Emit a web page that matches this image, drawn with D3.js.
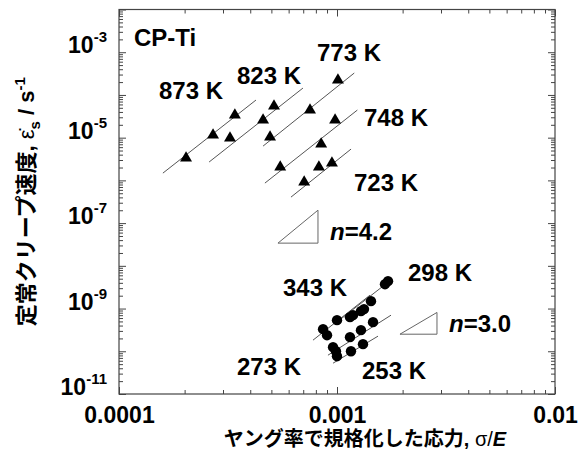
<!DOCTYPE html>
<html>
<head>
<meta charset="utf-8">
<script src="https://cdn.jsdelivr.net/npm/d3@7"></script>
<style>
  body { margin: 0; background: #fff; }
  svg { display: block; }
</style>
</head>
<body>
<svg id="chart" width="588" height="462"></svg>
<script>
// Steady-state creep rate vs. modulus-compensated stress, CP-Ti

// High-temperature tests (triangles)
const highTLabels = ["873 K", "823 K", "773 K", "748 K", "723 K"];
const highTStress = [
  [2.03e-4, 2.70e-4, 3.40e-4],
  [3.23e-4, 4.58e-4, 5.14e-4],
  [4.93e-4, 7.52e-4, 1.01e-3],
  [5.49e-4, 8.46e-4, 9.80e-4],
  [7.07e-4, 8.26e-4, 9.48e-4]
];
const highTRate = [
  [3.33e-6, 1.15e-5, 3.38e-5],
  [9.8e-6, 2.58e-5, 5.5e-5],
  [1.03e-5, 4.43e-5, 2.23e-4],
  [2.05e-6, 7.08e-6, 2.58e-5],
  [9.1e-7, 2.05e-6, 2.54e-6]
];
const highTFitStress = [[1.59e-4, 4.25e-4], [2.59e-4, 6.98e-4], [4.58e-4, 1.20e-3], [4.67e-4, 1.24e-3], [6.15e-4, 1.16e-3]];
const highTFitRate = [[1.48e-6, 7.6e-5], [2.69e-6, 1.45e-4], [6.35e-6, 3.26e-4], [8.65e-7, 4.43e-5], [4.06e-7, 5.41e-6]];

// Low-temperature tests (circles)
const lowTLabels = ["343 K", "298 K", "273 K", "253 K"];
const lowTStress = [
  [8.63e-4, 1.00e-3, 1.147e-3, 1.288e-3, 1.432e-3],
  [9.0e-4, 1.184e-3, 1.33e-3, 1.66e-3, 1.714e-3],
  [9.59e-4, 9.89e-4, 1.147e-3, 1.288e-3, 1.463e-3],
  [1.0e-3, 1.159e-3, 1.316e-3]
];
const lowTRate = [
  [3.30e-10, 5.35e-10, 6.29e-10, 8.69e-10, 1.49e-9],
  [2.38e-10, 7.0e-10, 9.7e-10, 3.72e-9, 4.38e-9],
  [1.25e-10, 1.0e-10, 2.14e-10, 3.12e-10, 4.80e-10],
  [7.68e-11, 1.0e-10, 1.47e-10]
];
const lowTFitStress = [[7.76e-4, 1.417e-3], [1.011e-3, 1.788e-3], [9.09e-4, 1.769e-3], [9.59e-4, 1.542e-3]];
const lowTFitRate = [[1.82e-10, 2.06e-9], [5.07e-10, 4.88e-9], [8.1e-11, 7.0e-10], [5.26e-11, 2.26e-10]];

// Stress-exponent guide triangles
const slopeN = [4.2, 3.0];
const slopeStress = [[5.36e-4, 8.18e-4], [1.945e-3, 2.875e-3]];
const slopeBaseRate = [3.40e-8, 2.51e-10];

// Axis ticks
const xTickValues = [1e-4, 1e-3, 1e-2];
const xTickLabels = ["0.0001", "0.001", "0.01"];
const yLabelExponents = [-3, -5, -7, -9, -11];

const FONT = "'Liberation Sans', Arial, 'Noto Sans CJK JP', sans-serif";
const margin = { left: 119, top: 9.5, right: 33, bottom: 68 };
const W = 588 - margin.left - margin.right;
const H = 462 - margin.top - margin.bottom;

const svg = d3.select("#chart");
const g = svg.append("g").attr("transform", `translate(${margin.left},${margin.top})`);

const x = d3.scaleLog().domain([1e-4, 1e-2]).range([0, W]);
const y = d3.scaleLog().domain([1e-11, 1e-2]).range([H, 0]);

const axisColor = "#444";

// minor / major tick values
const xMinor = [];
for (let e = -4; e < -2; e++) for (let m = 2; m <= 9; m++) xMinor.push(m * Math.pow(10, e));
const yMajor = d3.range(-11, -1).map(e => Math.pow(10, e));
const yMinor = [];
for (let e = -11; e < -2; e++) for (let m = 2; m <= 9; m++) yMinor.push(m * Math.pow(10, e));

function styleAxis(sel) {
  sel.select(".domain").remove();
  sel.selectAll(".tick line").attr("stroke", axisColor).attr("stroke-width", 1);
}

// bottom axis with labels
const bottomMajor = g.append("g").attr("transform", `translate(0,${H})`)
  .call(d3.axisBottom(x).tickValues(xTickValues).tickSize(-7).tickPadding(13)
    .tickFormat((d, i) => xTickLabels[i]));
styleAxis(bottomMajor);
bottomMajor.selectAll("text").attr("font-family", FONT).attr("font-size", 23)
  .attr("font-weight", "bold").attr("fill", "#000");
const bottomMinor = g.append("g").attr("transform", `translate(0,${H})`)
  .call(d3.axisBottom(x).tickValues(xMinor).tickSize(-4).tickFormat(""));
styleAxis(bottomMinor);
// top axis
[[xTickValues, 7], [xMinor, 4]].forEach(([vals, len]) => {
  const a = g.append("g").call(d3.axisTop(x).tickValues(vals).tickSize(-len).tickFormat(""));
  styleAxis(a);
});
// left & right axes
[[yMajor, 7], [yMinor, 4]].forEach(([vals, len]) => {
  const l = g.append("g").call(d3.axisLeft(y).tickValues(vals).tickSize(-len).tickFormat(""));
  styleAxis(l);
  const r = g.append("g").attr("transform", `translate(${W},0)`)
    .call(d3.axisRight(y).tickValues(vals).tickSize(-len).tickFormat(""));
  styleAxis(r);
});

// frame
g.append("rect").attr("width", W).attr("height", H)
  .attr("fill", "none").attr("stroke", axisColor).attr("stroke-width", 1.2);

// y tick labels as powers of ten
yLabelExponents.forEach(e => {
  const t = g.append("text")
    .attr("x", -12).attr("y", y(Math.pow(10, e)) + 1)
    .attr("text-anchor", "end")
    .attr("font-family", FONT).attr("font-weight", "bold").attr("fill", "#000");
  t.append("tspan").attr("font-size", 23).text("10");
  t.append("tspan").attr("font-size", 15).attr("dy", -11).text(String(e));
});

const lineColor = "#555";
const line = d3.line().x(d => x(d[0])).y(d => y(d[1]));

// fitted lines
highTFitStress.forEach((s, i) => {
  g.append("path").attr("d", line(s.map((v, j) => [v, highTFitRate[i][j]])))
    .attr("fill", "none").attr("stroke", lineColor).attr("stroke-width", 1);
});
lowTFitStress.forEach((s, i) => {
  g.append("path").attr("d", line(s.map((v, j) => [v, lowTFitRate[i][j]])))
    .attr("fill", "none").attr("stroke", lineColor).attr("stroke-width", 1);
});

// triangles
const tri = d3.symbol().type(d3.symbolTriangle).size(62);
highTStress.forEach((s, i) => {
  s.forEach((v, j) => {
    g.append("path").attr("d", tri())
      .attr("transform", `translate(${x(v)},${y(highTRate[i][j])})`)
      .attr("fill", "#000");
  });
});
// circles
lowTStress.forEach((s, i) => {
  s.forEach((v, j) => {
    g.append("circle").attr("cx", x(v)).attr("cy", y(lowTRate[i][j])).attr("r", 5.2)
      .attr("fill", "#000");
  });
});

// slope guides
slopeN.forEach((n, i) => {
  const [s0, s1] = slopeStress[i];
  const r0 = slopeBaseRate[i];
  const r1 = r0 * Math.pow(s1 / s0, n);
  const pts = [[s0, r0], [s1, r1], [s1, r0]];
  g.append("path").attr("d", line(pts) + "Z")
    .attr("fill", "none").attr("stroke", "#666").attr("stroke-width", 1);
  const t = g.append("text")
    .attr("x", x(s1) + 12).attr("y", y(r0) - (i === 0 ? 3 : 2))
    .attr("font-family", FONT).attr("font-size", 24).attr("font-weight", "bold").attr("fill", "#000");
  t.append("tspan").attr("font-style", "italic").text("n");
  t.append("tspan").text("=" + n.toFixed(1));
});

// annotations (pixel offsets inside the plot frame)
const annotations = [
  ["CP-Ti", 15, 36],
  [highTLabels[0], 40, 89], [highTLabels[1], 118, 74], [highTLabels[2], 198, 51],
  [highTLabels[3], 245, 116], [highTLabels[4], 235, 181],
  [lowTLabels[0], 164, 286], [lowTLabels[1], 289, 271],
  [lowTLabels[2], 118, 365], [lowTLabels[3], 243, 369]
];
annotations.forEach(([txt, ax, ay]) => {
  g.append("text").attr("x", ax).attr("y", ay)
    .attr("font-family", FONT).attr("font-size", 24).attr("font-weight", "bold")
    .attr("fill", "#000").text(txt);
});

// axis titles
const xt = svg.append("text")
  .attr("x", 365).attr("y", 446).attr("text-anchor", "middle")
  .attr("font-family", FONT).attr("font-size", 20).attr("font-weight", "bold").attr("fill", "#000");
xt.append("tspan").text("ヤング率で規格化した応力, ");
xt.append("tspan").attr("font-weight", "normal").text("σ/");
xt.append("tspan").attr("font-style", "italic").text("E");

const yt = svg.append("text")
  .attr("transform", `translate(34,${margin.top + H / 2}) rotate(-90)`)
  .attr("text-anchor", "middle")
  .attr("font-family", FONT).attr("font-size", 22).attr("font-weight", "bold").attr("fill", "#000");
yt.append("tspan").text("定常クリープ速度, ");
yt.append("tspan").attr("font-weight", "normal").text("ε\u0307");
yt.append("tspan").attr("font-size", 15).attr("dy", 6).text("s");
yt.append("tspan").attr("dy", -6).text(" / s");
yt.append("tspan").attr("font-size", 15).attr("dy", -9).text("-1");
</script>
</body>
</html>
